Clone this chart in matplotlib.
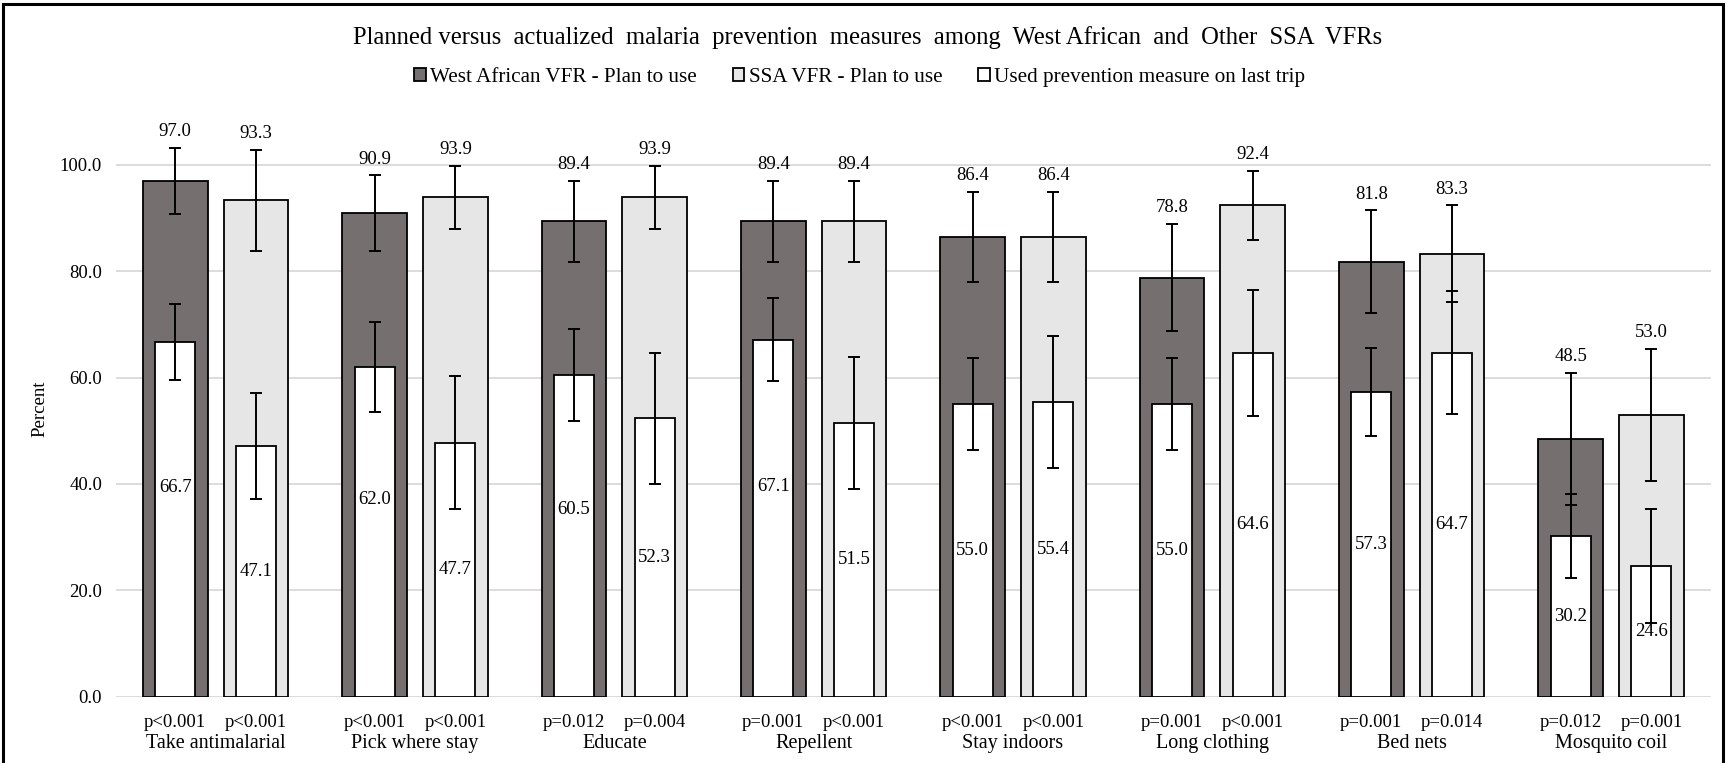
import numpy as np
import matplotlib.pyplot as plt
from matplotlib.patches import Rectangle

plt.rcParams['font.family'] = ['Liberation Serif', 'DejaVu Serif']

# data
categories = ["Take antimalarial", "Pick where stay", "Educate", "Repellent",
              "Stay indoors", "Long clothing", "Bed nets", "Mosquito coil"]
wa_plan = [97.0, 90.9, 89.4, 89.4, 86.4, 78.8, 81.8, 48.5]
ssa_plan = [93.3, 93.9, 93.9, 89.4, 86.4, 92.4, 83.3, 53.0]
wa_used = [66.7, 62.0, 60.5, 67.1, 55.0, 55.0, 57.3, 30.2]
ssa_used = [47.1, 47.7, 52.3, 51.5, 55.4, 64.6, 64.7, 24.6]
# error bar half widths
wa_plan_err = [6.2, 7.1, 7.6, 7.6, 8.5, 10.1, 9.6, 12.4]
ssa_plan_err = [9.5, 5.9, 5.9, 7.6, 8.5, 6.5, 9.1, 12.4]
wa_used_err = [7.1, 8.5, 8.6, 7.8, 8.7, 8.7, 8.2, 7.9]
ssa_used_err = [9.9, 12.5, 12.4, 12.4, 12.4, 11.9, 11.6, 10.7]
wa_p = ["p<0.001", "p<0.001", "p=0.012", "p=0.001", "p<0.001", "p=0.001", "p=0.001", "p=0.012"]
ssa_p = ["p<0.001", "p<0.001", "p=0.004", "p<0.001", "p<0.001", "p<0.001", "p=0.014", "p=0.001"]

# label nudges (the first few white labels sit a bit higher in the original)
wa_used_label_shift = [6, 6, 5, 6, 0, 0, 0, 0]

DARK = '#75706f'
LIGHT = '#e6e6e6'
FS = 13.5

fig = plt.figure(figsize=(17.28, 7.63), dpi=100)
ax = fig.add_axes([0.0671, 0.0869, 0.9229, 0.769])

x = np.arange(len(categories))
off = 0.2025
w_plan = 0.324
w_used = 0.2

ax.bar(x - off, wa_plan, w_plan, color=DARK, edgecolor='black', linewidth=1.3, zorder=2,
       label='West African VFR - Plan to use')
ax.bar(x + off, ssa_plan, w_plan, color=LIGHT, edgecolor='black', linewidth=1.3, zorder=2,
       label='SSA VFR - Plan to use')
ax.bar(x - off, wa_used, w_used, color='white', edgecolor='black', linewidth=1.3, zorder=3,
       label='Used prevention measure on last trip')
ax.bar(x + off, ssa_used, w_used, color='white', edgecolor='black', linewidth=1.3, zorder=3)

ekw = dict(fmt='none', ecolor='black', elinewidth=1.4, capsize=4.5, capthick=1.4, zorder=5)
ax.errorbar(x - off, wa_plan, yerr=wa_plan_err, **ekw)
ax.errorbar(x + off, ssa_plan, yerr=ssa_plan_err, **ekw)
ax.errorbar(x - off, wa_used, yerr=wa_used_err, **ekw)
ax.errorbar(x + off, ssa_used, yerr=ssa_used_err, **ekw)

tr = ax.get_xaxis_transform()
for i in range(len(categories)):
    ax.text(x[i] - off, wa_plan[i] + wa_plan_err[i] + 3.0, f"{wa_plan[i]:.1f}",
            ha='center', va='center', fontsize=FS, zorder=6)
    ax.text(x[i] + off, ssa_plan[i] + ssa_plan_err[i] + 3.0, f"{ssa_plan[i]:.1f}",
            ha='center', va='center', fontsize=FS, zorder=6)
    ax.text(x[i] - off, wa_used[i] / 2 + wa_used_label_shift[i], f"{wa_used[i]:.1f}",
            ha='center', va='center', fontsize=FS, zorder=6)
    ax.text(x[i] + off, ssa_used[i] / 2, f"{ssa_used[i]:.1f}",
            ha='center', va='center', fontsize=FS, zorder=6)
    ax.text(x[i] - off, -0.044, wa_p[i], ha='center', va='center', fontsize=FS, transform=tr)
    ax.text(x[i] + off, -0.044, ssa_p[i], ha='center', va='center', fontsize=FS, transform=tr)
    ax.text(x[i], -0.08, categories[i], ha='center', va='center', fontsize=14.5, transform=tr)

ax.set_xlim(-0.5, len(categories) - 0.5)
ax.set_ylim(0, 110.3)
ax.set_yticks(np.arange(0, 101, 20))
ax.set_yticklabels([f"{v:.1f}" for v in np.arange(0, 101, 20)], fontsize=FS)
ax.set_xticks([])
ax.tick_params(axis='y', length=0, pad=10)
ax.yaxis.grid(True, color='#d9d9d9', linewidth=1.3, zorder=0)
ax.set_axisbelow(True)
for s in ax.spines.values():
    s.set_visible(False)
ax.set_ylabel('Percent', fontsize=FS, labelpad=12)
ax.yaxis.set_label_coords(-0.0425, 0.49)

fig.text(0.502, 0.951, 'Planned versus  actualized  malaria  prevention  measures  among  West African  and  Other  SSA  VFRs',
         ha='center', va='center', fontsize=17.7)

fig.legend(loc='center', bbox_to_anchor=(0.4975, 0.898), ncol=3, frameon=False, fontsize=15.2,
           handlelength=0.55, handleheight=0.55, handletextpad=0.2, columnspacing=1.7)

# outer chart frame
fig.add_artist(Rectangle((0.002, -0.05), 0.995, 1.045, transform=fig.transFigure,
                         fill=False, edgecolor='black', linewidth=2.2))

fig.savefig('out.png', dpi=100)
